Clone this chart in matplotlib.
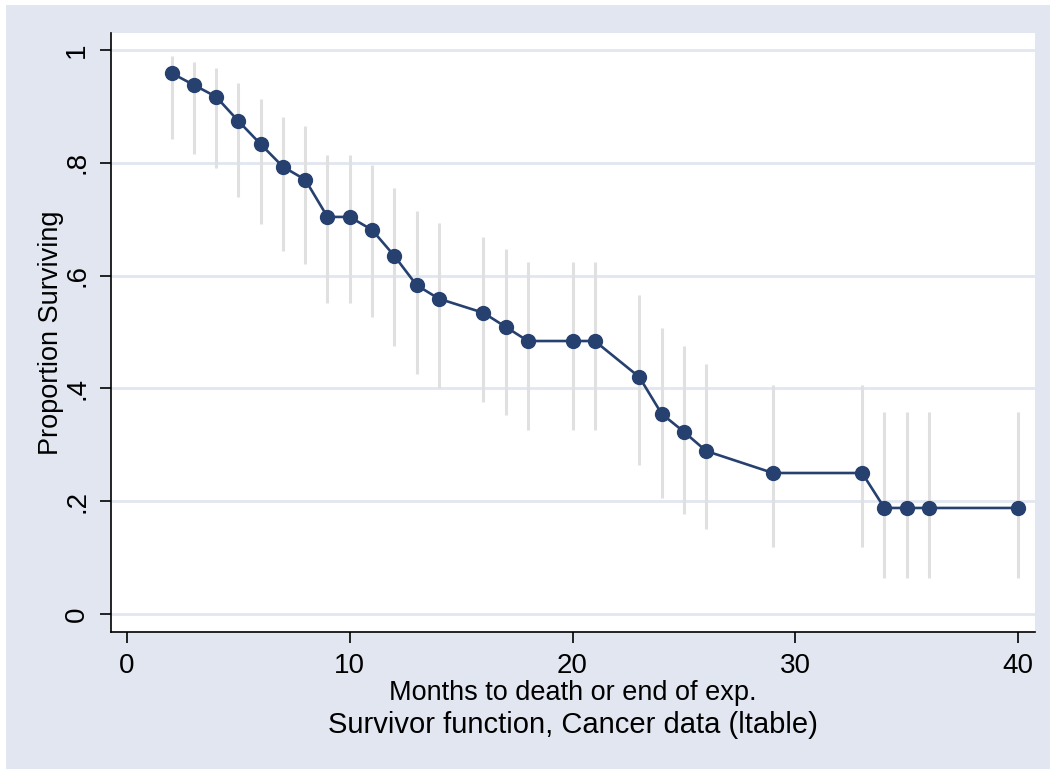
import matplotlib
matplotlib.use("Agg")
import matplotlib.pyplot as plt
from matplotlib.patches import Rectangle

# Survivor function
months = [2, 3, 4, 5, 6, 7, 8, 9, 10, 11, 12, 13, 14, 16, 17, 18, 20, 21,
          23, 24, 25, 26, 29, 33, 34, 35, 36, 40]
survival = [0.959, 0.938, 0.917, 0.874, 0.833, 0.793, 0.770, 0.704, 0.704,
            0.681, 0.635, 0.583, 0.559, 0.534, 0.509, 0.484, 0.484, 0.484,
            0.420, 0.355, 0.323, 0.289, 0.250, 0.250, 0.188, 0.188, 0.188,
            0.188]
ci_lower = [0.842, 0.816, 0.791, 0.739, 0.691, 0.644, 0.621, 0.551, 0.551,
            0.527, 0.475, 0.426, 0.401, 0.376, 0.353, 0.326, 0.326, 0.326,
            0.264, 0.206, 0.177, 0.151, 0.119, 0.119, 0.064, 0.064, 0.064,
            0.064]
ci_upper = [0.989, 0.979, 0.968, 0.941, 0.913, 0.881, 0.865, 0.814, 0.814,
            0.796, 0.755, 0.715, 0.693, 0.668, 0.647, 0.624, 0.624, 0.624,
            0.566, 0.507, 0.475, 0.443, 0.406, 0.406, 0.358, 0.358, 0.358,
            0.358]

y_ticks = [0, 0.2, 0.4, 0.6, 0.8, 1]
y_tick_labels = ["0", ".2", ".4", ".6", ".8", "1"]
x_ticks = [0, 10, 20, 30, 40]

plt.rcParams['font.family'] = ['Liberation Sans', 'DejaVu Sans']

bg = '#E1E6F0'
navy = '#26406F'

fig = plt.figure(figsize=(10.5, 7.69), dpi=100)
fig.patch.set_facecolor('white')
# Stata style graph region, with a thin white edge on top and left
fig.patches.append(Rectangle((6 / 1050, -0.01), 1, 1.01 - 5 / 769, transform=fig.transFigure,
                             facecolor=bg, edgecolor='none', zorder=-10))

ax = fig.add_axes([111 / 1050, 137 / 769, 924 / 1050, 599 / 769])
ax.set_facecolor('white')

ax.vlines(months, ci_lower, ci_upper, colors='#E0E0E0', linewidth=2.2, zorder=2)
ax.plot(months, survival, color=navy, linewidth=1.9, marker='o',
        markersize=10, markerfacecolor=navy, markeredgecolor=navy, zorder=3)

ax.set_xlim(-0.718, 40.76)
ax.set_ylim(-0.0319, 1.0301)

ax.set_yticks(y_ticks)
ax.set_yticklabels(y_tick_labels, rotation=90, va='center')
ax.set_xticks(x_ticks)

ax.yaxis.grid(True, color=bg, linewidth=2)
ax.set_axisbelow(True)

for side in ['top', 'right']:
    ax.spines[side].set_visible(False)
for side in ['left', 'bottom']:
    ax.spines[side].set_color('black')
    ax.spines[side].set_linewidth(1.2)

ax.tick_params(axis='both', direction='out', length=8, width=1.2,
               color='black', labelsize=20, pad=7)

ax.set_ylabel('Proportion Surviving', fontsize=19.5, labelpad=0)
ax.set_xlabel('Months to death or end of exp.', fontsize=19.5, labelpad=1)

fig.text(573 / 1050, 1 - 725 / 769, 'Survivor function, Cancer data (ltable)',
         ha='center', va='center', fontsize=21)

fig.savefig('out.png', dpi=100, facecolor=fig.get_facecolor())
